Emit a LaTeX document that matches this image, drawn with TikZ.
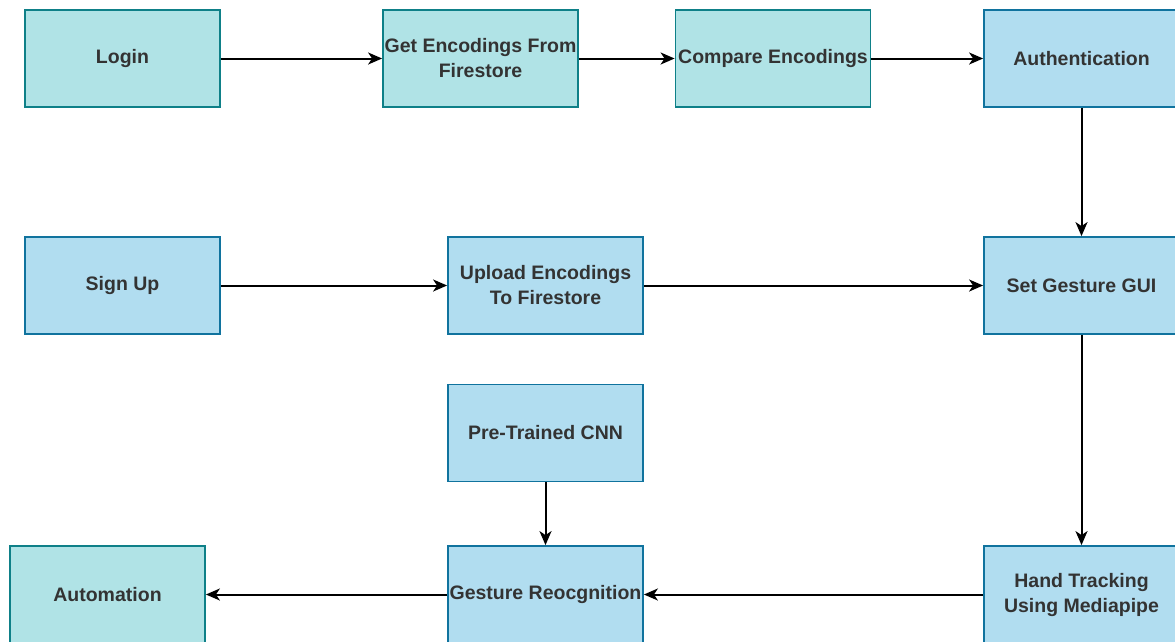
\documentclass[tikz,border=0pt]{standalone}
\usepackage{fontspec}
\setmainfont{Liberation Sans}
\usetikzlibrary{arrows.meta}
\definecolor{tealfill}{HTML}{B0E3E6}
\definecolor{tealline}{HTML}{0E8088}
\definecolor{bluefill}{HTML}{B1DDF0}
\definecolor{blueline}{HTML}{10739E}
\definecolor{txt}{HTML}{333333}
\tikzset{
  box/.style={draw, line width=1.8pt, minimum width=195pt, minimum height=97pt,
    inner sep=0pt, align=center, text=txt,
    font=\fontsize{19.5}{25}\selectfont\bfseries},
  tealbox/.style={box, fill=tealfill, draw=tealline},
  bluebox/.style={box, fill=bluefill, draw=blueline},
  conn/.style={line width=2pt, -{Stealth[length=14pt,width=12pt,inset=4pt]}}
}
\begin{document}
\begin{tikzpicture}[x=1pt,y=-1pt]
\useasboundingbox (0,0) rectangle (1175,641);
\node[tealbox] (login) at (122.5,58.5) {Login};
\node[tealbox] (get) at (480.5,58.5) {Get Encodings From\\Firestore};
\node[tealbox] (cmp) at (773,58.5) {Compare Encodings};
\node[bluebox] (auth) at (1081.5,58.5) {Authentication};
\node[bluebox] (sign) at (122.5,285.5) {Sign Up};
\node[bluebox] (up) at (545.5,285.5) {Upload Encodings\\To Firestore};
\node[bluebox] (gui) at (1081.5,285.5) {Set Gesture GUI};
\node[bluebox] (cnn) at (545.5,433) {Pre-Trained CNN};
\node[tealbox] (auto) at (107.5,594.5) {Automation};
\node[bluebox] (rec) at (545.5,594.5) {Gesture Reocgnition};
\node[bluebox] (hand) at (1081.5,594.5) {Hand Tracking\\Using Mediapipe};
\draw[conn] (login) -- (get);
\draw[conn] (get) -- (cmp);
\draw[conn] (cmp) -- (auth);
\draw[conn] (auth) -- (gui);
\draw[conn] (sign) -- (up);
\draw[conn] (up) -- (gui);
\draw[conn] (gui) -- (hand);
\draw[conn] (cnn) -- (rec);
\draw[conn] (hand) -- (rec);
\draw[conn] (rec) -- (auto);
\end{tikzpicture}
\end{document}
